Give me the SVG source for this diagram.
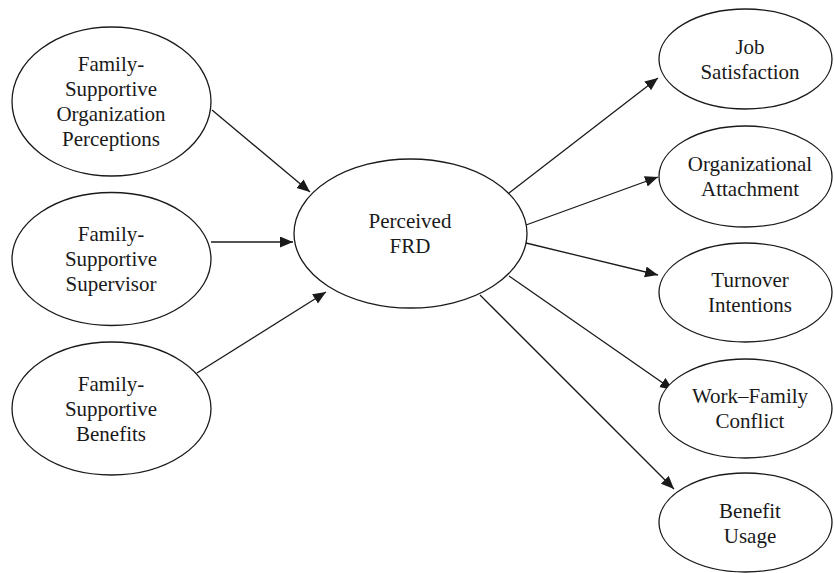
<svg xmlns="http://www.w3.org/2000/svg" width="834" height="573" viewBox="0 0 834 573">
<defs>
<marker id="ah" markerUnits="userSpaceOnUse" markerWidth="14" markerHeight="12" refX="13" refY="5.5" orient="auto">
<path d="M0,0 L13,5.5 L0,11 z" fill="#1a1a1a"/>
</marker>
<style>
.n ellipse{fill:#fff;stroke:#1a1a1a;stroke-width:1.3}
.n text{font-family:'Liberation Serif','Times New Roman',serif;font-size:21px;fill:#1a1a1a;text-anchor:middle}
.e line{stroke:#1a1a1a;stroke-width:1.3;marker-end:url(#ah)}
</style>
</defs>
<rect width="834" height="573" fill="#fff"/>
<g id="connectors" class="e">
<line x1="212" y1="110" x2="310" y2="192"/>
<line x1="211" y1="242" x2="293" y2="242"/>
<line x1="197" y1="373" x2="326" y2="292"/>
<line x1="509" y1="193" x2="658" y2="78"/>
<line x1="526" y1="225" x2="658" y2="177"/>
<line x1="526" y1="243" x2="658" y2="275"/>
<line x1="509" y1="276" x2="673" y2="390"/>
<line x1="480" y1="295" x2="674" y2="489"/>
</g>
<g id="fsop" class="n">
<ellipse cx="111.5" cy="101.5" rx="99.5" ry="74.5"/>
<text x="111" y="71">Family-</text>
<text x="111" y="96">Supportive</text>
<text x="111" y="121">Organization</text>
<text x="111" y="146">Perceptions</text>
</g>
<g id="fss" class="n">
<ellipse cx="111.5" cy="259" rx="99.5" ry="66.5"/>
<text x="111" y="241">Family-</text>
<text x="111" y="266">Supportive</text>
<text x="111" y="291">Supervisor</text>
</g>
<g id="fsb" class="n">
<ellipse cx="111.5" cy="408.5" rx="99.5" ry="66.5"/>
<text x="111" y="391">Family-</text>
<text x="111" y="416">Supportive</text>
<text x="111" y="441">Benefits</text>
</g>
<g id="frd" class="n">
<ellipse cx="410.5" cy="233.5" rx="116.5" ry="74.5"/>
<text x="410" y="228">Perceived</text>
<text x="410" y="253">FRD</text>
</g>
<g id="js" class="n">
<ellipse cx="745.5" cy="59" rx="86.5" ry="50"/>
<text x="750" y="54">Job</text>
<text x="750" y="79">Satisfaction</text>
</g>
<g id="oa" class="n">
<ellipse cx="745.5" cy="176.5" rx="86.5" ry="50.5"/>
<text x="750" y="171">Organizational</text>
<text x="750" y="196">Attachment</text>
</g>
<g id="ti" class="n">
<ellipse cx="745.5" cy="292.5" rx="86.5" ry="49.5"/>
<text x="750" y="287">Turnover</text>
<text x="750" y="312">Intentions</text>
</g>
<g id="wfc" class="n">
<ellipse cx="745.5" cy="408.5" rx="86.5" ry="49.5"/>
<text x="750" y="403">Work–Family</text>
<text x="750" y="428">Conflict</text>
</g>
<g id="bu" class="n">
<ellipse cx="745.5" cy="522.5" rx="86.5" ry="49.5"/>
<text x="750" y="518">Benefit</text>
<text x="750" y="543">Usage</text>
</g>
</svg>
